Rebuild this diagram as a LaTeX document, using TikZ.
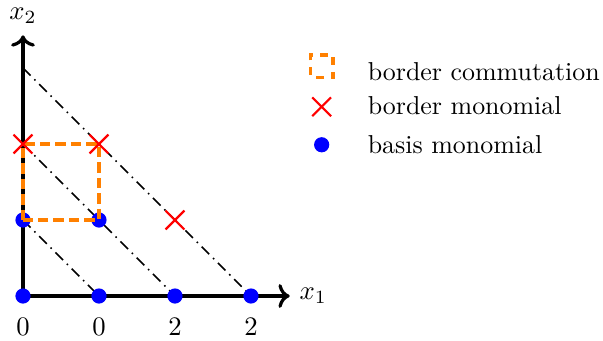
\documentclass[tikz,border=0pt]{standalone}
\usetikzlibrary{arrows.meta,positioning,shapes.misc}
\definecolor{Commut}{HTML}{FF8000}

\begin{document}
\begin{tikzpicture}[
    x=1cm,y=1cm,
    axis/.style={->,line width=1.2pt},
    diag/.style={line width=0.55pt,dash pattern=on 4pt off 2pt on 0.6pt off 2pt},
    commut/.style={draw=Commut,line width=1.8pt,dash pattern=on 3.8pt off 2pt},
    basis/.style={circle,fill=blue,inner sep=0pt,minimum size=0.2cm},
    border/.style={cross out,draw=red,line width=0.8pt,inner sep=0pt,minimum size=0.22cm},
    legtext/.style={anchor=west,inner sep=0pt,font=\fontsize{9.7}{11}\selectfont}
  ]
    \useasboundingbox (-0.3026,-0.592) rectangle (7.632,3.895);
    % lattice points
    \foreach \i/\j in {0/0,1/0,2/0,3/0,0/1,1/1,2/1,0/2,1/2,0/3}
      \coordinate (p\i\j) at (\i,\j);
    \coordinate (xend) at (3.51,0);
    \coordinate (yend) at (0,3.43);
    % degree lines
    \draw[diag] (p01) -- (p10);
    \draw[diag] (p02) -- (p20);
    \draw[diag] (p03) -- (p30);
    % axes
    \draw[axis] (p00) -- (xend);
    \draw[axis] (p00) -- (yend);
    \node (x1) at (3.82,0) {$x_1$};
    \node (x2) at (0,3.69) {$x_2$};
    \foreach \n in {p00,p10,p20,p30,p01,p11}
      \node[basis] at (\n) {};
    % border commutation
    \draw[commut] (p01) -- (p02) -- (p12) -- (p11) -- cycle;
    \foreach \n in {p02,p12,p21}
      \node[border] at (\n) {};
    % tick labels
    \node (t0) at (0,-0.41) {$0$};
    \node (t1) at (1,-0.41) {$0$};
    \node (t2) at (2,-0.41) {$2$};
    \node (t3) at (3,-0.41) {$2$};
    % legend
    \draw[draw=Commut,line width=1.2pt,dash pattern=on 3pt off 2.6pt,dash phase=-1pt] (3.78,2.87) rectangle (4.08,3.17);
    \node[border] (legx) at (3.93,2.49) {};
    \node[basis] (legb) at (3.93,1.99) {};
    \node[legtext] at (4.53,2.95) {border commutation};
    \node[legtext] at (4.53,2.50) {border monomial};
    \node[legtext] at (4.53,1.99) {basis monomial};
\end{tikzpicture}
\end{document}
